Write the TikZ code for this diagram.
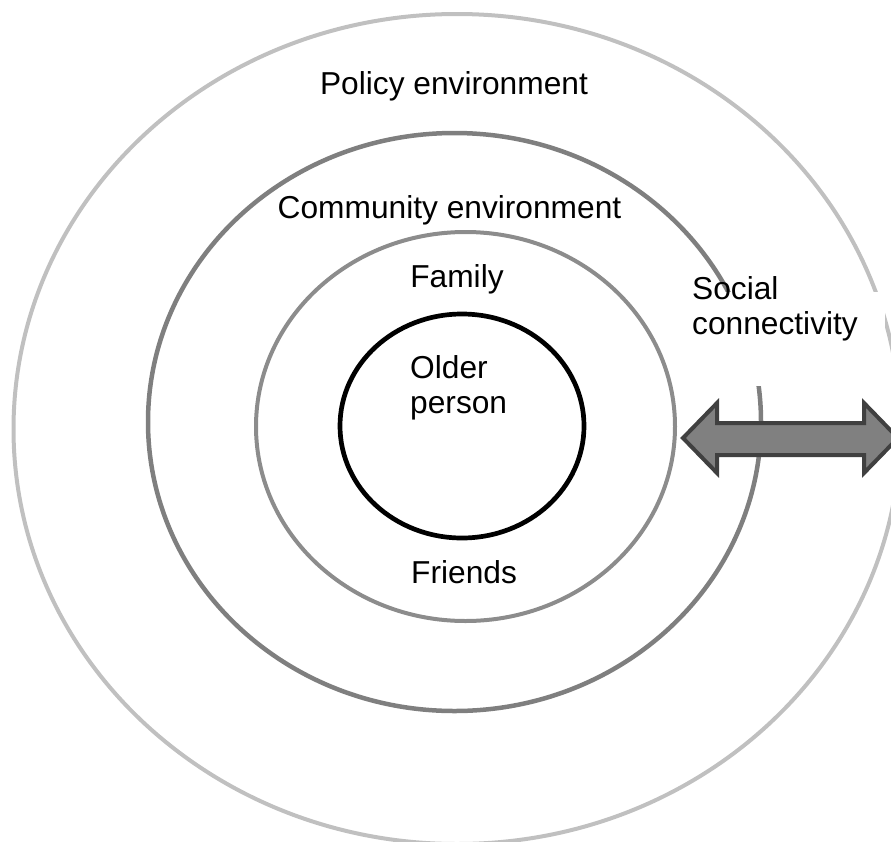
\documentclass[tikz,border=0pt]{standalone}
\usepackage{fontspec}
\setmainfont{Liberation Sans}
\definecolor{policygray}{HTML}{C0C0C0}
\definecolor{communitygray}{HTML}{7F7F7F}
\definecolor{familygray}{HTML}{8C8C8C}
\definecolor{arrowfill}{HTML}{808080}
\definecolor{arrowline}{HTML}{404040}
\begin{document}
\begin{tikzpicture}[x=1pt,y=-1pt,
  lbl/.style={font=\fontsize{31.7}{35}\selectfont, inner sep=0pt, align=left}]
\useasboundingbox (0,0) rectangle (891,841);
\clip (0,0) rectangle (891,841);
% rings
\draw[policygray, line width=4pt] (457,429) ellipse [x radius=443.5pt, y radius=415pt];
\draw[communitygray, line width=4.5pt] (454.5,422) ellipse [x radius=306.5pt, y radius=289pt];
\draw[familygray, line width=4pt] (465.5,426.5) ellipse [x radius=209.5pt, y radius=194.5pt];
\draw[black, line width=4.7pt] (462,426) ellipse [x radius=122pt, y radius=112pt];
% white background behind the social connectivity label
\fill[white] (683,292) rectangle (885,386);
% labels
\node[lbl, anchor=base] (policy) at (454,94.5) {Policy environment};
\node[lbl, anchor=base] (community) at (449.5,218.5) {Community environment};
\node[lbl, anchor=base] (family) at (457,287) {Family};
\node[lbl, anchor=base west] (older) at (410,413) {Older\\person};
\node[lbl, anchor=base west] (friends) at (411,583) {Friends};
\node[lbl, anchor=base west] (social) at (692,334) {Social\\connectivity};
% double-headed block arrow
\draw[fill=arrowfill, draw=arrowline, line width=4pt, line join=miter]
  (683,438) -- (717,403) -- (717,423) -- (864,423) -- (864,403) -- (898,438)
  -- (864,473) -- (864,455) -- (717,455) -- (717,473) -- cycle;
\end{tikzpicture}
\end{document}
